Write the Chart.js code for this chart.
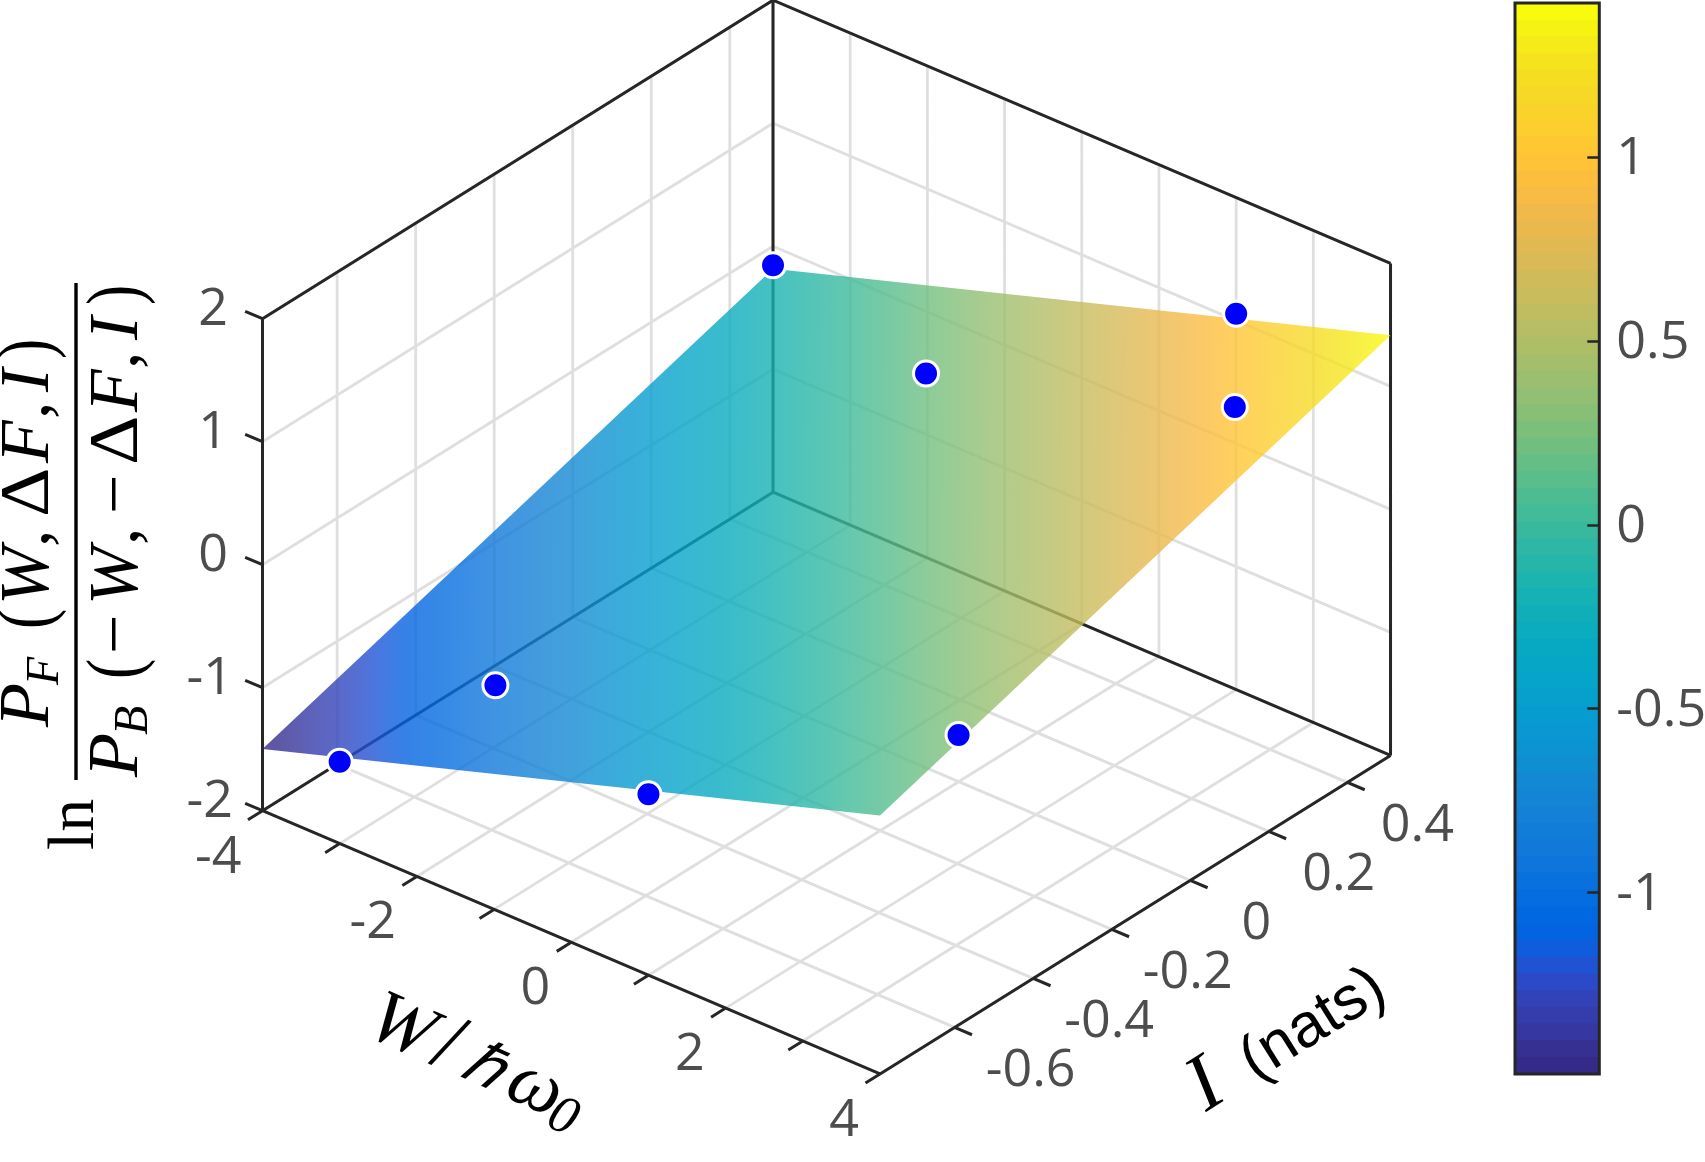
<!DOCTYPE html>
<html>
<head>
<meta charset="utf-8">
<script src="https://cdn.jsdelivr.net/npm/chart.js@4/dist/chart.umd.min.js"></script>
<style>
  html, body { margin: 0; background: #fff; }
  #wrap { position: relative; width: 1705px; height: 1162px; overflow: hidden; }
  canvas { position: absolute; top: 0; }
</style>
</head>
<body>
<div id="wrap">
  <canvas id="surfaceChart" width="1705" height="1162" style="left:0"></canvas>
  <canvas id="colorbarChart" width="205" height="1162" style="left:1500px"></canvas>
</div>
<script>
// --- Data ---
const wRange = [-4, 4];
const iRange = [-0.79, 0.51];
const zRange = [-2, 2];
const wTicks = [-4, -3, -2, -1, 0, 1, 2, 3, 4];
const wLabels = ['-4', '-2', '0', '2', '4'];
const iTicks = [-0.6, -0.4, -0.2, 0, 0.2, 0.4];
const iLabels = ['-0.6', '-0.4', '-0.2', '0', '0.2', '0.4'];
const zTicks = [-2, -1, 0, 1, 2];
const zLabels = ['-2', '-1', '0', '1', '2'];

// the fitted plane, four corners
const surfaceW = [-4, 4, 4, -4];
const surfaceI = [-0.79, -0.79, 0.51, 0.51];
const surfaceZ = [-1.498, 0.10, 1.415, -0.183];

// the measured points
const pointW = [-4, -1, 2, 3, -2, -3, 1, 4];
const pointI = [0.51, 0.31, 0.51, 0.31, -0.59, -0.79, -0.79, -0.59];
const pointZ = [-0.155, 0.166, 1.055, 0.963, -0.844, -1.334, -0.529, 0.357];

// colorbar
const colorLimits = [-1.493, 1.42];
const colorTicks = [-1, -0.5, 0, 0.5, 1];
const parula = [
  [0.2081,0.1663,0.5292],[0.2116,0.1898,0.5777],[0.2123,0.2138,0.6270],[0.2081,0.2386,0.6771],
  [0.1959,0.2645,0.7279],[0.1707,0.2919,0.7792],[0.1253,0.3242,0.8303],[0.0591,0.3598,0.8683],
  [0.0117,0.3875,0.8820],[0.0060,0.4086,0.8828],[0.0165,0.4266,0.8786],[0.0329,0.4430,0.8720],
  [0.0498,0.4586,0.8641],[0.0629,0.4737,0.8554],[0.0723,0.4887,0.8467],[0.0779,0.5040,0.8384],
  [0.0793,0.5200,0.8312],[0.0749,0.5375,0.8263],[0.0641,0.5570,0.8240],[0.0488,0.5772,0.8228],
  [0.0343,0.5966,0.8199],[0.0265,0.6137,0.8135],[0.0239,0.6287,0.8038],[0.0231,0.6418,0.7913],
  [0.0228,0.6535,0.7768],[0.0267,0.6642,0.7607],[0.0384,0.6743,0.7436],[0.0590,0.6838,0.7254],
  [0.0843,0.6928,0.7062],[0.1133,0.7015,0.6859],[0.1453,0.7098,0.6646],[0.1801,0.7177,0.6424],
  [0.2178,0.7250,0.6193],[0.2586,0.7317,0.5954],[0.3022,0.7376,0.5712],[0.3482,0.7424,0.5473],
  [0.3953,0.7459,0.5244],[0.4420,0.7481,0.5033],[0.4871,0.7491,0.4840],[0.5300,0.7491,0.4661],
  [0.5709,0.7485,0.4494],[0.6099,0.7473,0.4337],[0.6473,0.7456,0.4188],[0.6834,0.7435,0.4044],
  [0.7184,0.7411,0.3905],[0.7525,0.7384,0.3768],[0.7858,0.7356,0.3633],[0.8185,0.7327,0.3498],
  [0.8507,0.7299,0.3360],[0.8824,0.7274,0.3217],[0.9139,0.7258,0.3063],[0.9450,0.7261,0.2886],
  [0.9739,0.7314,0.2666],[0.9938,0.7455,0.2403],[0.9990,0.7653,0.2164],[0.9955,0.7861,0.1967],
  [0.9880,0.8066,0.1794],[0.9789,0.8271,0.1633],[0.9697,0.8481,0.1475],[0.9626,0.8705,0.1309],
  [0.9589,0.8949,0.1132],[0.9598,0.9218,0.0948],[0.9661,0.9514,0.0755],[0.9763,0.9831,0.0538]
];

const rgba = (c, a) => `rgba(${c.map(v => Math.round(v * 255)).join(',')},${a})`;

// --- The view: orthographic, W/I/z to the flat scale of the chart ---
const view = { x0: 262.5, y0: 810.7, wx: 77.19, wy: 32.9, ix: 392.7, iy: -245, zy: -123 };

function project(w, i, z) {
  const u = w - wRange[0], v = i - iRange[0], h = z - zRange[0];
  return {
    x: view.x0 + u * view.wx + v * view.ix,
    y: view.y0 + u * view.wy + v * view.iy + h * view.zy
  };
}

function segments(list) {
  const out = [];
  list.forEach(s => {
    out.push(project(...s[0]), project(...s[1]), { x: null, y: null });
  });
  return out;
}

const [w0, w1] = wRange, [i0, i1] = iRange, [z0, z1] = zRange;
const wTick = 0.225, iTick = 0.037;

// light grid: floor and the two back walls
const gridSegs = [];
wTicks.forEach(w => {
  gridSegs.push([[w, i0, z0], [w, i1, z0]]);
  gridSegs.push([[w, i1, z0], [w, i1, z1]]);
});
iTicks.forEach(i => {
  gridSegs.push([[w0, i, z0], [w1, i, z0]]);
  gridSegs.push([[w0, i, z0], [w0, i, z1]]);
});
zTicks.forEach(z => {
  gridSegs.push([[w0, i0, z], [w0, i1, z]]);
  gridSegs.push([[w0, i1, z], [w1, i1, z]]);
});

// dark box and tick marks
const boxSegs = [
  [[w0, i0, z0], [w1, i0, z0]], [[w1, i0, z0], [w1, i1, z0]],
  [[w1, i1, z0], [w0, i1, z0]], [[w0, i1, z0], [w0, i0, z0]],
  [[w0, i0, z0], [w0, i0, z1]], [[w0, i1, z0], [w0, i1, z1]], [[w1, i1, z0], [w1, i1, z1]],
  [[w0, i0, z1], [w0, i1, z1]], [[w0, i1, z1], [w1, i1, z1]]
];
wTicks.forEach(w => boxSegs.push([[w, i0, z0], [w, i0 - iTick, z0]]));
iTicks.forEach(i => boxSegs.push([[w1, i, z0], [w1 + wTick, i, z0]]));
zTicks.forEach(z => boxSegs.push([[w0, i0, z], [w0 - wTick, i0, z]]));

const surfacePts = surfaceW.map((w, k) => project(w, surfaceI[k], surfaceZ[k]));
surfacePts.push(surfacePts[0]);
const markerPts = pointW.map((w, k) => project(w, pointI[k], pointZ[k]));

// z is linear on the plane, so the parula colouring is one linear gradient
let surfaceFill = null;
function surfaceGradient(chart) {
  if (surfaceFill) return surfaceFill;
  if (!chart.chartArea) return 'rgba(0,0,0,0)';
  const sx = chart.scales.x, sy = chart.scales.y;
  const p = surfacePts.slice(0, 3).map(q => ({ x: sx.getPixelForValue(q.x), y: sy.getPixelForValue(q.y) }));
  const dx1 = p[1].x - p[0].x, dy1 = p[1].y - p[0].y, dz1 = surfaceZ[1] - surfaceZ[0];
  const dx2 = p[2].x - p[0].x, dy2 = p[2].y - p[0].y, dz2 = surfaceZ[2] - surfaceZ[0];
  const det = dx1 * dy2 - dx2 * dy1;
  const gx = (dz1 * dy2 - dz2 * dy1) / det;
  const gy = (dx1 * dz2 - dx2 * dz1) / det;
  const g2 = gx * gx + gy * gy;
  const a = (colorLimits[0] - surfaceZ[0]) / g2, b = (colorLimits[1] - surfaceZ[0]) / g2;
  const grad = chart.ctx.createLinearGradient(p[0].x + gx * a, p[0].y + gy * a, p[0].x + gx * b, p[0].y + gy * b);
  parula.forEach((c, k) => grad.addColorStop(k / (parula.length - 1), rgba(c, 0.8)));
  surfaceFill = grad;
  return grad;
}

// --- Text ---
const tickFont = '52px "Open Sans"';
const tickColor = '#4d4d4d';
const serif = '"Liberation Serif"';
const it = s => `italic ${s}px ${serif}`;
const up = s => `${s}px ${serif}`;

// at: distance along the text direction, sx: stretch of the glyph along it
function drawRuns(ctx, x, y, angle, runs) {
  ctx.save();
  ctx.translate(x, y);
  ctx.rotate(angle);
  ctx.textAlign = 'left';
  ctx.textBaseline = 'alphabetic';
  ctx.fillStyle = '#000';
  runs.forEach(r => {
    ctx.save();
    ctx.translate(r.at, r.dy || 0);
    ctx.scale(r.sx || 1, 1);
    ctx.font = r.font;
    ctx.fillText(r.t, 0, 0);
    ctx.restore();
  });
  ctx.restore();
}

const numeratorRuns = [
  { t: 'P', at: 0, font: it(72) }, { t: 'F', at: 42, font: it(46), dy: 10 },
  { t: '(', at: 98, font: up(76), dy: 2, sx: 0.8 }, { t: 'W', at: 122, font: it(70) },
  { t: ',', at: 180, font: up(70) }, { t: 'Δ', at: 210, font: up(70), sx: 1.1 }, { t: 'F', at: 264, font: it(70) },
  { t: ',', at: 308, font: up(70) }, { t: 'I', at: 335, font: it(70) }, { t: ')', at: 368, font: up(76), dy: 2, sx: 0.8 }
];
const denominatorRuns = [
  { t: 'P', at: 0, font: it(72) }, { t: 'B', at: 42, font: it(48), dy: 10 },
  { t: '(', at: 98, font: up(76), dy: 2, sx: 0.8 }, { t: '−', at: 123, font: up(70) }, { t: 'W', at: 172, font: it(70) },
  { t: ',', at: 232, font: up(70) }, { t: '−', at: 263, font: up(70) }, { t: 'Δ', at: 312, font: up(70), sx: 1.1 }, { t: 'F', at: 365, font: it(70) },
  { t: ',', at: 408, font: up(70) }, { t: 'I', at: 437, font: it(70) }, { t: ')', at: 472, font: up(76), dy: 2, sx: 0.8 }
];

const textPlugin = {
  id: 'axisText',
  afterDraw(chart) {
    const ctx = chart.ctx, sx = chart.scales.x, sy = chart.scales.y;
    const toPx = p => ({ x: sx.getPixelForValue(p.x), y: sy.getPixelForValue(p.y) });
    ctx.save();
    ctx.font = tickFont;
    ctx.fillStyle = tickColor;
    ctx.textBaseline = 'middle';

    ctx.textAlign = 'right';
    wLabels.forEach(s => {
      const p = toPx(project(Number(s), i0, z0));
      ctx.fillText(s, p.x - 21, p.y + 47);
    });
    ctx.textAlign = 'center';
    iLabels.forEach(s => {
      const p = toPx(project(w1, Number(s), z0));
      ctx.fillText(s, p.x + (s.length > 3 ? 76 : s.length > 1 ? 70 : 66), p.y + 44);
    });
    ctx.textAlign = 'right';
    zLabels.forEach(s => {
      const p = toPx(project(w0, i0, Number(s)));
      ctx.fillText(s, s.length > 1 ? 233 : 228, p.y - 9);
    });
    ctx.restore();

    // axis titles
    const ccw = -Math.PI / 2;
    drawRuns(ctx, 48, 727, ccw, numeratorRuns);
    drawRuns(ctx, 137, 777, ccw, denominatorRuns);
    drawRuns(ctx, 93, 850, ccw, [{ t: 'ln', at: 0, font: up(66) }]);
    ctx.save();
    ctx.fillStyle = '#000';
    ctx.fillRect(74.3, 283, 3.4, 497);
    ctx.restore();

    drawRuns(ctx, 364, 1034, 24 * Math.PI / 180, [
      { t: 'W', at: 0, font: it(76) }, { t: '/', at: 70, font: up(84) }, { t: 'ℏ', at: 104, font: it(62) },
      { t: 'ω', at: 152, font: it(76) }, { t: '0', at: 202, font: it(54), dy: 10 }
    ]);
    drawRuns(ctx, 1206, 1112, -32 * Math.PI / 180, [
      { t: 'I', at: 0, font: it(80) }, { t: '(nats)', at: 58, font: '62px "Liberation Sans"' }
    ]);
  }
};

// --- The 3D panel, on a flat chart the size of the page ---
new Chart(document.getElementById('surfaceChart'), {
  type: 'scatter',
  data: {
    datasets: [
      {
        label: 'measured', data: markerPts, order: 1, showLine: false,
        pointRadius: 12.5, pointBorderWidth: 3, pointBorderColor: '#fff', pointBackgroundColor: '#0000ff'
      },
      {
        label: 'surface', data: surfacePts, order: 2, showLine: true, fill: 'shape', borderWidth: 0, pointRadius: 0,
        backgroundColor: c => surfaceGradient(c.chart)
      },
      {
        label: 'box', data: segments(boxSegs), order: 3, showLine: true, spanGaps: false,
        borderColor: '#262626', borderWidth: 3, pointRadius: 0
      },
      {
        label: 'grid', data: segments(gridSegs), order: 4, showLine: true, spanGaps: false,
        borderColor: '#dfdfdf', borderWidth: 2.8, pointRadius: 0
      }
    ]
  },
  options: {
    responsive: false,
    animation: false,
    layout: { padding: 0, autoPadding: false },
    plugins: { legend: { display: false }, tooltip: { enabled: false } },
    scales: {
      x: { type: 'linear', min: 0, max: 1705, display: false },
      y: { type: 'linear', min: 0, max: 1162, reverse: true, display: false }
    }
  },
  plugins: [textPlugin]
});

// --- Colorbar: 64 overlapping floating bars and a real y axis ---
const bandStep = (colorLimits[1] - colorLimits[0]) / parula.length;
const colorbarFrame = {
  id: 'colorbarFrame',
  afterDatasetsDraw(chart) {
    const { ctx, chartArea: a } = chart;
    ctx.save();
    ctx.strokeStyle = '#262626';
    ctx.lineWidth = 3;
    ctx.strokeRect(a.left, a.top, a.right - a.left, a.bottom - a.top);
    ctx.restore();
  }
};

new Chart(document.getElementById('colorbarChart'), {
  type: 'bar',
  data: {
    labels: [''],
    datasets: parula.map((c, k) => ({
      data: [[colorLimits[0], colorLimits[0] + bandStep * (k + 1)]],
      backgroundColor: rgba(c, 1),
      grouped: false,
      barPercentage: 1,
      categoryPercentage: 1
    }))
  },
  options: {
    responsive: false,
    animation: false,
    layout: { padding: { left: 15, top: 3, bottom: 88, right: 0 }, autoPadding: false },
    plugins: { legend: { display: false }, tooltip: { enabled: false } },
    scales: {
      x: { type: 'category', display: false },
      y: {
        position: 'right',
        min: colorLimits[0],
        max: colorLimits[1],
        afterBuildTicks: scale => { scale.ticks = colorTicks.map(value => ({ value })); },
        afterFit: scale => { scale.width = 105.7; scale.paddingTop = 0; scale.paddingBottom = 0; },
        grid: { z: 1, drawOnChartArea: false, drawTicks: true, tickLength: -12, tickWidth: 2.5, tickColor: '#262626' },
        border: { display: false },
        ticks: {
          padding: 29,
          labelOffset: 2,
          color: tickColor,
          font: { family: '"Open Sans"', size: 52 },
          callback: v => String(v),
          autoSkip: false,
          maxRotation: 0
        }
      }
    }
  },
  plugins: [colorbarFrame]
});
</script>
</body>
</html>
